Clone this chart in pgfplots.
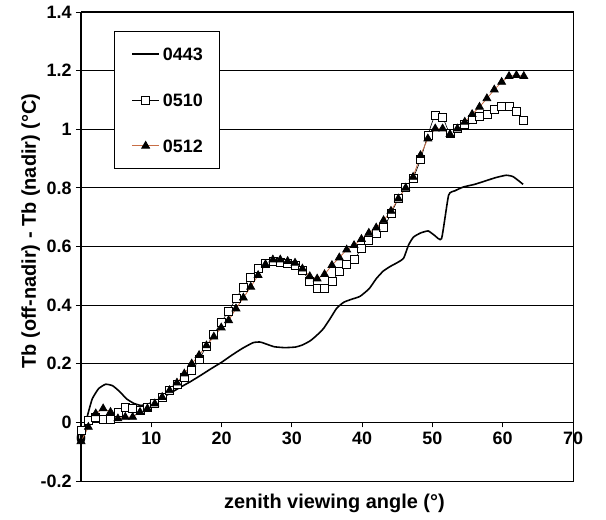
\documentclass[border=0pt]{standalone}
\usepackage{pgfplots}
\pgfplotsset{compat=1.18}
\usepackage{fontspec}
\setmainfont{Liberation Sans}
\definecolor{rust}{RGB}{200,110,70}
\begin{document}
\begin{tikzpicture}
\begin{axis}[
  scale only axis, width=492bp, height=469bp,
  xmin=0, xmax=70, ymin=-0.2, ymax=1.4,
  axis x line=middle, axis y line=left,
  axis line style={-, black, line width=1pt},
  hide obscured x ticks=false,
  xtick={0,10,...,70},
  xticklabels={0,10,20,30,40,50,60,70},
  ytick={-0.2,0,0.2,0.4,0.6,0.8,1,1.2,1.4},
  yticklabels={-0.2,0,0.2,0.4,0.6,0.8,1,1.2,1.4},
  tick align=outside, major tick length=5bp,
  tick style={black, line width=0.8pt},
  ymajorgrids, grid style={black, line width=0.8pt},
  ticklabel style={font=\fontsize{18}{20}\selectfont\bfseries},
  xticklabel style={anchor=north, yshift=-1bp},
  yticklabel style={anchor=east, xshift=-1bp},
  xlabel={zenith viewing angle (°)},
  ylabel={Tb (off-nadir) - Tb (nadir) (°C)},
  label style={font=\fontsize{20}{22}\selectfont\bfseries},
  xlabel style={at={(axis description cs:0.515,-0.0597)}, anchor=base},
  ylabel style={at={(axis description cs:-0.0915,0.533)}, anchor=base, rotate=0},
  legend style={at={(axis description cs:0.067,0.9595)}, anchor=north west,
    draw=black, line width=0.8pt, fill=white,
    inner xsep=17bp, inner ysep=16bp, row sep=33bp,
    nodes={font=\fontsize{18}{20}\selectfont\bfseries, inner sep=0pt, text height=13bp, text depth=0pt},
    column sep=3bp},
  legend image code/.code={\draw[#1, mark repeat=2, mark phase=2] plot coordinates {(0bp,0bp) (13.5bp,0bp) (27bp,0bp)};},
  legend cell align=left,
  clip=false,
]
\addplot[black, line width=1.6pt, smooth, tension=0.3] coordinates {
(0,-0.07)(0.5,-0.02)(1,0.03)(1.6,0.08)(2.5,0.115)(3.5,0.13)(4.5,0.125)(5.5,0.105)
(6.5,0.08)(7.5,0.065)(8.5,0.058)(9.5,0.062)(11,0.078)(12.5,0.097)(14,0.118)
(15.5,0.138)(17,0.16)(18.5,0.183)(20,0.205)(21.5,0.23)(23,0.253)(24.5,0.272)
(25.5,0.274)(26.5,0.266)(27.5,0.258)(29,0.255)(30.5,0.257)(31.5,0.264)(32.6,0.278)
(33.5,0.296)(34.5,0.32)(35.5,0.356)(36.4,0.39)(37.4,0.41)(38.5,0.42)(39.7,0.43)
(41,0.456)(42,0.49)(43,0.516)(44,0.532)(45,0.545)(45.9,0.56)(46.6,0.605)(47.3,0.632)
(48.3,0.646)(49.4,0.653)(50.3,0.638)(51.3,0.627)(52.3,0.775)(53.2,0.79)(54.4,0.803)
(56,0.812)(57.7,0.825)(59,0.835)(60.5,0.843)(61.5,0.838)(62.9,0.812)};
\addlegendentry{0443}
\addplot[black, line width=0.6pt, smooth, tension=0.4, mark=square*, mark size=4bp,
  mark options={fill=white, draw=black, line width=0.7pt, solid}] coordinates {
(0,-0.027)(1.05,0.007)(2.1,0.016)(3.15,0.009)(4.2,0.009)(5.25,0.035)(6.3,0.05)
(7.35,0.047)(8.4,0.041)(9.45,0.05)(10.5,0.066)(11.55,0.086)(12.6,0.109)(13.65,0.129)
(14.7,0.155)(15.75,0.177)(16.8,0.214)(17.85,0.26)(18.9,0.3)(19.95,0.342)(21,0.38)
(22.05,0.422)(23.1,0.462)(24.15,0.496)(25.2,0.524)(26.25,0.541)(27.3,0.55)
(28.35,0.547)(29.4,0.544)(30.45,0.536)(31.5,0.519)(32.55,0.48)(33.6,0.458)
(34.65,0.456)(35.7,0.48)(36.75,0.515)(37.8,0.54)(38.85,0.555)(39.9,0.593)
(40.95,0.621)(42,0.644)(43.05,0.664)(44.1,0.712)(45.15,0.763)(46.2,0.801)
(47.25,0.834)(48.3,0.896)(49.35,0.98)(50.4,1.048)(51.45,1.04)(52.5,0.985)
(53.55,1.002)(54.6,1.017)(55.65,1.033)(56.7,1.044)(57.75,1.051)(58.8,1.067)
(59.85,1.078)(60.9,1.078)(61.95,1.062)(63,1.031)};
\addlegendentry{0510}
\addplot[rust, line width=0.8pt, mark=triangle*, mark size=4.5bp,
  mark options={fill=black, draw=black, solid}] coordinates {
(0,-0.065)(1.05,-0.016)(2.1,0.03)(3.15,0.047)(4.2,0.035)(5.25,0.013)(6.3,0.018)
(7.35,0.018)(8.4,0.035)(9.45,0.047)(10.5,0.064)(11.55,0.086)(12.6,0.109)(13.65,0.135)
(14.7,0.166)(15.75,0.2)(16.8,0.229)(17.85,0.262)(18.9,0.292)(19.95,0.323)(21,0.348)
(22.05,0.388)(23.1,0.425)(24.15,0.462)(25.2,0.502)(26.25,0.539)(27.3,0.555)
(28.35,0.555)(29.4,0.55)(30.45,0.544)(31.5,0.524)(32.55,0.498)(33.6,0.49)
(34.65,0.505)(35.7,0.536)(36.75,0.562)(37.8,0.589)(38.85,0.604)(39.9,0.625)
(40.95,0.646)(42,0.664)(43.05,0.689)(44.1,0.721)(45.15,0.763)(46.2,0.8)
(47.25,0.837)(48.3,0.911)(49.35,0.968)(50.4,1.002)(51.45,1.002)(52.5,0.983)
(53.55,1.002)(54.6,1.025)(55.65,1.051)(56.7,1.076)(57.75,1.105)(58.8,1.135)
(59.85,1.161)(60.9,1.181)(61.95,1.184)(63,1.181)};
\addlegendentry{0512}
\draw[black, line width=1pt] (rel axis cs:0,0) rectangle (rel axis cs:1,1);
\draw[black, line width=2pt] (rel axis cs:0,0) -- (rel axis cs:0,1);
\end{axis}
\pgfresetboundingbox
\path ([shift={(-81bp,-39bp)}]current axis.south west) rectangle ([shift={(33bp,12bp)}]current axis.north east);
\end{tikzpicture}
\end{document}
